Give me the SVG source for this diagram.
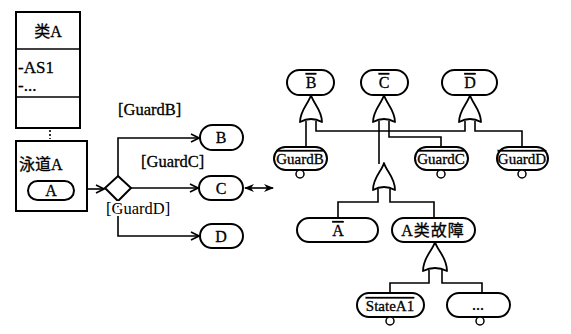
<svg xmlns="http://www.w3.org/2000/svg" width="571" height="334" viewBox="0 0 571 334">
<defs>
<style>
text{font-family:"Liberation Serif","Noto Sans CJK SC",serif;fill:#000;stroke:#000;stroke-width:0.3px;}
.t{font-size:16px;text-anchor:middle;}
.lbl{font-size:16.5px;}
.n{font-size:15px;text-anchor:middle;}
.ob{text-decoration:overline;}
.box{fill:#fff;stroke:#000;stroke-width:2;}
.pill{fill:#fff;stroke:#000;stroke-width:2;}
.ln{fill:none;stroke:#000;stroke-width:1.6;}
.gate{fill:#fff;stroke:#000;stroke-width:1.8;stroke-linejoin:round;}
.dot{fill:#fff;stroke:#000;stroke-width:1.5;}
.halo{paint-order:stroke;stroke:#fff;stroke-width:4px;}
</style>
<marker id="open" markerWidth="10" markerHeight="10" refX="9" refY="5" orient="auto" markerUnits="userSpaceOnUse">
<path d="M1,1 L9,5 L1,9" fill="none" stroke="#000" stroke-width="1.6"/>
</marker>
<marker id="solid" markerWidth="10" markerHeight="10" refX="9" refY="5" orient="auto-start-reverse" markerUnits="userSpaceOnUse">
<path d="M0,1 L10,5 L0,9 L3,5 Z" fill="#000"/>
</marker>
</defs>
<rect width="571" height="334" fill="#fff"/>

<g id="connectors">
<line class="ln" x1="50" y1="130" x2="50" y2="139" stroke-dasharray="2,2"/>
<line class="ln" x1="74" y1="189" x2="104" y2="189" marker-end="url(#open)"/>
<path class="ln" d="M118,176 V138 H199" marker-end="url(#open)"/>
<line class="ln" x1="131" y1="188" x2="198" y2="188" marker-end="url(#open)"/>
<path class="ln" d="M118,201 V236 H199" marker-end="url(#open)"/>
<line class="ln" x1="245" y1="188" x2="273" y2="188" marker-start="url(#solid)" marker-end="url(#solid)"/>
<path class="ln" d="M306,121 V147"/>
<path class="ln" d="M316,121 V131 H465 V121"/>
<path class="ln" d="M379,121 V164"/>
<path class="ln" d="M389,121 V137 H441 V147"/>
<path class="ln" d="M475,121 V131 H522 V147"/>
<path class="ln" d="M378,189 V202 H338 V218"/>
<path class="ln" d="M390,189 V202 H434 V218"/>
<path class="ln" d="M429,270 V283 H390 V293"/>
<path class="ln" d="M442,270 V283 H482 V293"/>
</g>

<g id="classA">
<rect class="box" x="16" y="12" width="64" height="116"/>
<line class="ln" x1="16" y1="49" x2="80" y2="49" stroke-width="2"/>
<line class="ln" x1="16" y1="97" x2="80" y2="97" stroke-width="2"/>
<text class="t" x="48" y="37">类A</text>
<text x="18" y="73" font-size="17">-AS1</text>
<text x="18" y="91" font-size="17">-...</text>
</g>

<g id="swimlaneA">
<rect class="box" x="16" y="141" width="71" height="70"/>
<text x="19" y="170" font-size="16">泳道A</text>
</g>

<g id="nodeA">
<rect class="pill" x="28" y="181" width="46" height="19" rx="9.5"/>
<text class="t" x="51" y="196">A</text>
</g>

<g id="decision">
<path class="box" d="M118,176 L131,188 L118,201 L105,188 Z"/>
</g>

<g id="labels">
<text class="lbl" x="118" y="115">[GuardB]</text>
<text class="lbl" x="141" y="167">[GuardC]</text>
<text class="lbl halo" x="106" y="214">[GuardD]</text>
</g>

<g id="nodeB">
<rect class="pill" x="200" y="125" width="43" height="25" rx="12.5"/>
<text class="t" x="221" y="143">B</text>
</g>
<g id="nodeC">
<rect class="pill" x="199" y="176" width="44" height="24" rx="12"/>
<text class="t" x="221" y="194">C</text>
</g>
<g id="nodeD">
<rect class="pill" x="200" y="224" width="43" height="24" rx="12"/>
<text class="t" x="221" y="242">D</text>
</g>

<g id="notB">
<rect class="pill" x="287" y="70" width="47" height="25" rx="12.5"/>
<text class="t ob" x="311" y="88">B</text>
</g>
<g id="notC">
<rect class="pill" x="361" y="70" width="47" height="25" rx="12.5"/>
<text class="t ob" x="384" y="88">C</text>
</g>
<g id="notD">
<rect class="pill" x="442" y="70" width="55" height="25" rx="12.5"/>
<text class="t ob" x="470" y="88">D</text>
</g>

<g id="gateB">
<path class="gate" d="M311,95 C313,103 322,110 322,122 Q311,116 300,122 C300,110 309,103 311,95 Z"/>
</g>
<g id="gateC">
<path class="gate" d="M384,95 C386,103 395,110 395,122 Q384,116 373,122 C373,110 382,103 384,95 Z"/>
</g>
<g id="gateD">
<path class="gate" d="M470,95 C472,103 481,110 481,122 Q470,116 459,122 C459,110 468,103 470,95 Z"/>
</g>

<g id="notGuardB">
<rect class="pill" x="274" y="147" width="53" height="23" rx="11.5"/>
<text class="n ob" x="300" y="164">GuardB</text>
<circle class="dot" cx="300" cy="174" r="4"/>
</g>
<g id="notGuardC">
<rect class="pill" x="415" y="147" width="53" height="23" rx="11.5"/>
<text class="n ob" x="441" y="164">GuardC</text>
<circle class="dot" cx="441" cy="174" r="4"/>
</g>
<g id="notGuardD">
<rect class="pill" x="497" y="147" width="51" height="23" rx="11.5"/>
<text class="n ob" x="522" y="164">GuardD</text>
<circle class="dot" cx="522" cy="174" r="4"/>
</g>

<g id="gateA">
<path class="gate" d="M384,163 C386,171 395,177 395,190 Q384,184 373,190 C373,177 382,171 384,163 Z"/>
</g>

<g id="notA">
<rect class="pill" x="297" y="218" width="81" height="24" rx="12"/>
<text class="t ob" x="338" y="236">A</text>
</g>
<g id="faultA">
<rect class="pill" x="392" y="218" width="83" height="24" rx="12"/>
<text class="t" x="433" y="236" letter-spacing="1">A类故障</text>
</g>

<g id="gateFault">
<path class="gate" d="M435,242 C437,250 447,257 447,271 Q435,265 423,271 C423,257 433,250 435,242 Z"/>
</g>

<g id="notStateA1">
<rect class="pill" x="357" y="293" width="67" height="24" rx="12"/>
<text class="n ob" x="390" y="311">StateA1</text>
<circle class="dot" cx="390" cy="321" r="4"/>
</g>
<g id="more">
<rect class="pill" x="447" y="293" width="63" height="24" rx="12"/>
<text class="t" x="478" y="310">...</text>
<circle class="dot" cx="480" cy="321" r="4"/>
</g>
</svg>
